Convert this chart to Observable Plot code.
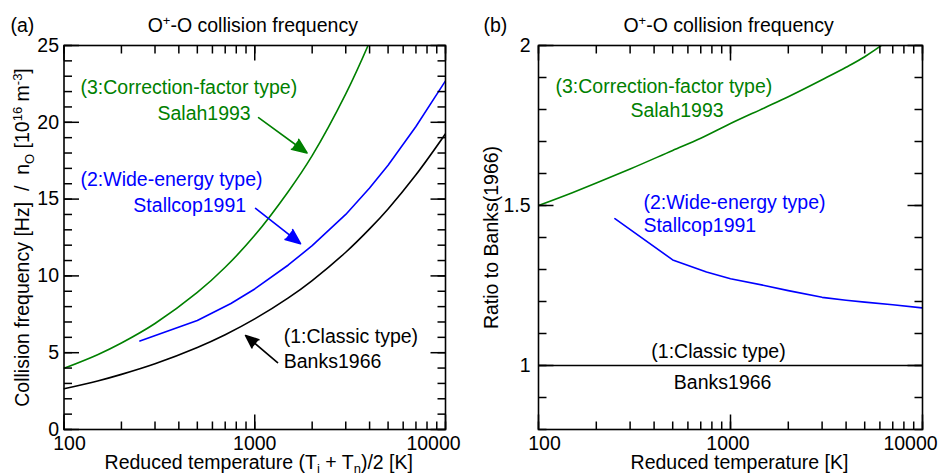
<!DOCTYPE html>
<html><head><meta charset="utf-8">
<script src="https://cdn.jsdelivr.net/npm/d3@7"></script>
<script src="https://cdn.jsdelivr.net/npm/@observablehq/plot@0.6"></script>
<style>
body{margin:0;background:#fff;}
#wrap{display:flex;width:938px;height:475px;overflow:hidden;}
.panel{position:relative;width:469px;height:475px;}
.panel svg{position:absolute;left:0;top:0;}
svg text{font-family:"Liberation Sans", Arial, sans-serif;}
</style></head><body><div id="wrap"><div class="panel" id="pa"></div><div class="panel" id="pb"></div></div>
<script>
// ---------- data ----------
// Panel (a): collision frequency / n_O  [Hz / 1e16 m^-3]
const banksT   = [100,150,200,300,500,700,1000,1500,2000,3000,4000,5000,7000,10000];
const banksV   = [2.65,3.16,3.59,4.28,5.34,6.17,7.20,8.57,9.70,11.54,13.06,14.36,16.58,19.25];
const salahT   = [100,150,200,300,500,700,1000,1500,2000,3000,4000,5000];
const salahV   = [3.98,4.87,5.63,6.90,8.92,10.56,12.64,15.50,17.83,21.85,25.23,28.2];
const stallT   = [250,500,750,1000,1500,2000,3000,4000,5000,7000,10000];
const stallV   = [5.76,7.10,8.20,9.15,10.71,11.97,14.00,15.72,17.20,19.73,22.70];
// Panel (b): ratio to Banks(1966)
const ratioBanksT = [100,10000];
const ratioBanksV = [1,1];
const ratioSalahT = [100,150,200,300,500,700,1000,1500,2000,3000,4000,5000,6000,7000];
const ratioSalahV = [1.50,1.54,1.57,1.614,1.672,1.710,1.756,1.805,1.840,1.893,1.932,1.965,1.997,2.03];
const ratioStallT = [250,500,750,1000,1500,2000,3000,4000,5000,7000,10000];
const ratioStallV = [1.459,1.330,1.292,1.271,1.250,1.234,1.213,1.204,1.198,1.190,1.180];
// ticks
const minorX = [100,200,300,400,500,600,700,800,900,1000,2000,3000,4000,5000,6000,7000,8000,9000,10000];
const majorX = [100,1000,10000];
const minorYa = d3.range(0,26);
const majorYa = [0,5,10,15,20,25];
const minorYb = d3.range(8,21).map(d=>d/10);
const majorYb = [1,1.5,2];
// annotations
const GREEN = "#008000", BLUE = "#0000ff", BLACK = "#000000";
const notesA = [
  {T:122, v:22.27, text:"(3:Correction-factor type)", c:GREEN},
  {T:309, v:20.57, text:"Salah1993", c:GREEN},
  {T:122, v:16.28, text:"(2:Wide-energy type)", c:BLUE},
  {T:231, v:14.58, text:"Stallcop1991", c:BLUE},
  {T:1419, v:6.05, text:"(1:Classic type)", c:BLACK},
  {T:1419, v:4.43, text:"Banks1966", c:BLACK}
];
const arrowsA = [
  {T1:1047, v1:20.3, T2:1880, v2:18.0, c:GREEN},
  {T1:1010, v1:14.39, T2:1738, v2:12.1, c:BLUE},
  {T1:1317, v1:4.36, T2:895, v2:6.12, c:BLACK}
];
const notesBLeft = [
  {T:122.6, v:1.872, text:"(3:Correction-factor type)", c:GREEN},
  {T:301, v:1.797, text:"Salah1993", c:GREEN},
  {T:352, v:1.509, text:"(2:Wide-energy type)", c:BLUE},
  {T:352, v:1.4375, text:"Stallcop1991", c:BLUE}
];
const notesBMid = [
  {T:866, v:1.044, text:"(1:Classic type)", c:BLACK},
  {T:910, v:0.947, text:"Banks1966", c:BLACK}
];

// ---------- helpers ----------
const FS = 19.5;
const W = 469, H = 475, MT = 45, MB = 46, PH = H - MT - MB;
const XD = [100,10000];
const rows = (T, V) => T.map((t,i)=>({T:t, v:V[i]}));
// inward ticks on all four sides drawn as links (paths); lengths in px converted through the scale geometry
function linkTicks(minorY, majorY, ydom, PW){
  const out = [];
  const [y0, y1] = ydom;
  const yPer = (y1 - y0) / PH;                         // data units per px
  const xFac = L => Math.pow(XD[1]/XD[0], L / PW);     // log-x factor for L px
  for (const [X, Y, L] of [[minorX, minorY, 8], [majorX, majorY, 15]]) {
    const o = {stroke:"black", strokeWidth:1.5};
    out.push(
      Plot.link(X,{...o, x1:d=>d, x2:d=>d, y1:()=>y0, y2:()=>y0 + L*yPer}),
      Plot.link(X,{...o, x1:d=>d, x2:d=>d, y1:()=>y1, y2:()=>y1 - L*yPer}),
      Plot.link(Y,{...o, y1:d=>d, y2:d=>d, x1:()=>XD[0], x2:()=>XD[0]*xFac(L)}),
      Plot.link(Y,{...o, y1:d=>d, y2:d=>d, x1:()=>XD[1], x2:()=>XD[1]/xFac(L)})
    );
  }
  return out;
}
function xLabels(dxs){
  return majorX.map((t,i)=>Plot.axisX([t],{anchor:"bottom", tickSize:0, tickPadding:7, label:null,
    tickFormat:d=>String(d), fontSize:FS, dx:dxs[i]}));
}
function rich(svg, key, html){
  for (const t of svg.querySelectorAll("text")) if (t.textContent === key) t.innerHTML = html;
}
const style = {fontFamily:'"Liberation Sans", Arial, sans-serif', fontSize:FS+"px", background:"white", color:"black"};

// ---------- panel (a) ----------
const PWa = W - 63.5 - 24;
const svgA = Plot.plot({
  width:W, height:H, marginLeft:63.5, marginRight:24, marginTop:MT, marginBottom:MB,
  style,
  x:{type:"log", domain:XD},
  y:{domain:[0,25]},
  marks:[
    Plot.line(rows(banksT,banksV),{x:"T", y:"v", stroke:BLACK, strokeWidth:1.6, curve:"catmull-rom", clip:true}),
    Plot.line(rows(salahT,salahV),{x:"T", y:"v", stroke:GREEN, strokeWidth:1.6, curve:"catmull-rom", clip:true}),
    Plot.line(rows(stallT,stallV),{x:"T", y:"v", stroke:BLUE, strokeWidth:1.6, curve:"linear", clip:true}),
    ...linkTicks(minorYa, majorYa, [0,25], PWa),
    Plot.frame({strokeWidth:1.6}),
    ...xLabels([5.5,0,-12]),
    Plot.axisY(majorYa,{anchor:"left", tickSize:0, tickPadding:5, label:null, fontSize:FS}),
    Plot.text(notesA,{x:"T", y:"v", text:"text", fill:"c", textAnchor:"start", fontSize:FS}),
    Plot.arrow(arrowsA,{x1:"T1", y1:"v1", x2:"T2", y2:"v2", stroke:"c", fill:"c", strokeWidth:1.6, headLength:15, headAngle:45}),
    Plot.text(["(a)"],{frameAnchor:"top-left", dx:-53.5, dy:-20, textAnchor:"start", lineAnchor:"middle", fontSize:FS}),
    Plot.text(["TITLE"],{frameAnchor:"top", dx:-2, dy:-20, textAnchor:"middle", lineAnchor:"middle", fontSize:FS}),
    Plot.text(["XLABEL_A"],{frameAnchor:"bottom", dx:4, dy:33, textAnchor:"middle", lineAnchor:"middle", fontSize:FS}),
    Plot.text(["YLABEL_A"],{frameAnchor:"left", dx:-41.5, rotate:-90, textAnchor:"middle", lineAnchor:"middle", fontSize:FS})
  ]
});

// ---------- panel (b) ----------
const PWb = W - 69 - 16;
const svgB = Plot.plot({
  width:W, height:H, marginLeft:69, marginRight:16, marginTop:MT, marginBottom:MB,
  style,
  x:{type:"log", domain:XD},
  y:{domain:[0.8,2]},
  marks:[
    Plot.line(rows(ratioBanksT,ratioBanksV),{x:"T", y:"v", stroke:BLACK, strokeWidth:1.6, clip:true}),
    Plot.line(rows(ratioSalahT,ratioSalahV),{x:"T", y:"v", stroke:GREEN, strokeWidth:1.6, curve:"monotone-x", clip:true}),
    Plot.line(rows(ratioStallT,ratioStallV),{x:"T", y:"v", stroke:BLUE, strokeWidth:1.6, curve:"linear", clip:true}),
    ...linkTicks(minorYb, majorYb, [0.8,2], PWb),
    Plot.frame({strokeWidth:1.6}),
    ...xLabels([6,-2.5,-12]),
    Plot.axisY(majorYb,{anchor:"left", tickSize:0, tickPadding:8, label:null, fontSize:FS, tickFormat:d=>String(d)}),
    Plot.text(notesBLeft,{x:"T", y:"v", text:"text", fill:"c", textAnchor:"start", fontSize:FS}),
    Plot.text(notesBMid,{x:"T", y:"v", text:"text", fill:"c", textAnchor:"middle", fontSize:FS}),
    Plot.text(["(b)"],{frameAnchor:"top-left", dx:-55, dy:-20, textAnchor:"start", lineAnchor:"middle", fontSize:FS}),
    Plot.text(["TITLE"],{frameAnchor:"top", dx:-2, dy:-20, textAnchor:"middle", lineAnchor:"middle", fontSize:FS}),
    Plot.text(["Reduced temperature [K]"],{frameAnchor:"bottom", dx:9, dy:33, textAnchor:"middle", lineAnchor:"middle", fontSize:FS}),
    Plot.text(["Ratio to Banks(1966)"],{frameAnchor:"left", dx:-47, rotate:-90, textAnchor:"middle", lineAnchor:"middle", fontSize:FS})
  ]
});

const NB = "\u00a0";
const titleHTML = `O<tspan dy="-7" font-size="13">+</tspan><tspan dy="7">-O collision frequency</tspan>`;
for (const s of [svgA, svgB]) rich(s, "TITLE", titleHTML);
rich(svgA, "XLABEL_A", `Reduced temperature (T<tspan dy="4" font-size="13">i</tspan><tspan dy="-4">${NB}+ T</tspan><tspan dy="4" font-size="13">n</tspan><tspan dy="-4">)/2 [K]</tspan>`);
rich(svgA, "YLABEL_A", `Collision frequency [Hz]${NB}${NB}/${NB}${NB}n<tspan dy="5" font-size="13">O</tspan><tspan dy="-5">${NB}[10</tspan><tspan dy="-7" font-size="13">16</tspan><tspan dy="7">${NB}m</tspan><tspan dy="-7" font-size="13">-3</tspan><tspan dy="7">]</tspan>`);

document.getElementById("pa").append(svgA);
document.getElementById("pb").append(svgB);
</script></body></html>
